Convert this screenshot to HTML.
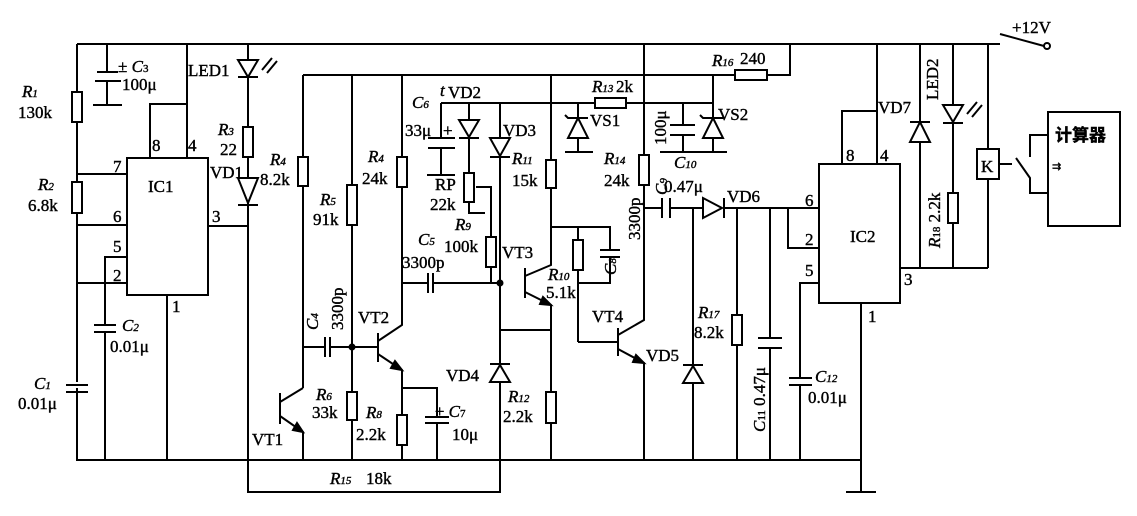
<!DOCTYPE html>
<html><head><meta charset="utf-8"><style>
html,body{margin:0;padding:0;background:#fff;}
svg{display:block}
text{font-family:"Liberation Serif","Noto Serif CJK SC",serif;font-size:17px;fill:#000;stroke:#000;stroke-width:0.4px;}
.i{font-style:italic}
.s{font-size:11px}
</style></head><body>
<svg width="1137" height="516" viewBox="0 0 1137 516" xmlns="http://www.w3.org/2000/svg">
<g stroke="#000" stroke-width="2" fill="none">
<polyline points="77,44 1000,44"/>
<polyline points="77,44 77,460 861,460"/>
<polyline points="248,460 248,492 500,492 500,460"/>
<rect x="72" y="92" width="10" height="30" fill="#fff"/>
<rect x="72" y="182" width="10" height="31" fill="#fff"/>
<line x1="66" y1="385" x2="88" y2="385" stroke="#fff" stroke-width="6"/>
<line x1="66" y1="385" x2="88" y2="385"/><line x1="66" y1="392" x2="88" y2="392"/>
<polyline points="107,44 107,72"/><line x1="97" y1="72" x2="118" y2="72"/><line x1="95" y1="81" x2="121" y2="81"/>
<polyline points="107,81 107,105"/><line x1="93" y1="105" x2="122" y2="105"/>
<rect x="127" y="158" width="81" height="137"/>
<polyline points="187,44 187,158"/>
<polyline points="150,158 150,104 187,104"/>
<line x1="77" y1="174" x2="127" y2="174"/>
<line x1="77" y1="225" x2="127" y2="225"/>
<polyline points="127,257 105,257 105,325"/>
<line x1="94" y1="325" x2="116" y2="325"/><line x1="94" y1="332" x2="116" y2="332"/>
<line x1="105" y1="332" x2="105" y2="460"/>
<line x1="77" y1="283" x2="127" y2="283"/>
<line x1="167" y1="295" x2="167" y2="460"/>
<line x1="208" y1="226" x2="248" y2="226"/>
<line x1="248" y1="44" x2="248" y2="460"/>
<polygon points="238,60 258,60 248,77" fill="#fff"/><line x1="238" y1="77" x2="258" y2="77"/>
<path d="M262,70 L272,58 M267,73 L277,61"/>
<rect x="243" y="127" width="10" height="30" fill="#fff"/>
<polygon points="238,178 258,178 248,203" fill="#fff"/><line x1="238" y1="205" x2="258" y2="205"/>
<polyline points="303,75 735,75"/>
<rect x="735" y="70" width="32" height="10" fill="#fff"/>
<polyline points="767,75 790,75 790,44"/>
<line x1="303" y1="75" x2="303" y2="388"/>
<rect x="298" y="157" width="10" height="29" fill="#fff"/>
<line x1="280" y1="393" x2="280" y2="424"/>
<polyline points="280,402 303,388"/>
<polyline points="280,416 303,432 303,460"/>
<polygon points="303,432 293,430 297,423" fill="#000"/>
<line x1="303" y1="347" x2="325" y2="347"/><line x1="330" y1="347" x2="378" y2="347"/>
<line x1="325" y1="337" x2="325" y2="357"/><line x1="330" y1="337" x2="330" y2="357"/>
<line x1="352" y1="75" x2="352" y2="460"/>
<rect x="347" y="185" width="10" height="40" fill="#fff"/>
<rect x="347" y="392" width="10" height="28" fill="#fff"/>
<circle cx="352" cy="347" r="2.5" fill="#000"/>
<line x1="378" y1="333" x2="378" y2="362"/>
<polyline points="378,341 402,325 402,75"/>
<rect x="397" y="157" width="10" height="30" fill="#fff"/>
<polyline points="378,354 402,370 402,460"/>
<polygon points="402,370 391,368 395,361" fill="#000"/>
<rect x="397" y="415" width="10" height="30" fill="#fff"/>
<polyline points="402,388 437,388 437,417"/>
<line x1="425" y1="417" x2="449" y2="417"/><line x1="425" y1="423" x2="449" y2="423"/>
<line x1="437" y1="423" x2="437" y2="460"/>
<polyline points="402,283 428,283"/><polyline points="433,283 500,283"/>
<line x1="428" y1="273" x2="428" y2="293"/><line x1="433" y1="273" x2="433" y2="293"/>
<circle cx="500" cy="283" r="2.5" fill="#000"/>
<polyline points="441,103 595,103"/>
<rect x="595" y="98" width="31" height="10" fill="#fff"/>
<polyline points="626,103 713,103"/>
<line x1="441" y1="103" x2="441" y2="138"/>
<line x1="428" y1="138" x2="455" y2="138"/><line x1="428" y1="148" x2="455" y2="148"/>
<line x1="441" y1="148" x2="441" y2="175"/><line x1="427" y1="175" x2="455" y2="175"/>
<line x1="469" y1="103" x2="469" y2="173"/>
<polygon points="459,120 479,120 469,137" fill="#fff"/><line x1="459" y1="138" x2="479" y2="138"/>
<rect x="464" y="173" width="10" height="29" fill="#fff"/>
<polyline points="469,202 469,213 485,213"/>
<polyline points="476,187 491,187 491,283"/>
<rect x="486" y="237" width="10" height="30" fill="#fff"/>
<line x1="500" y1="103" x2="500" y2="492"/>
<polygon points="490,138 510,138 500,156" fill="#fff"/><line x1="490" y1="157" x2="510" y2="157"/>
<polygon points="490,382 510,382 500,365" fill="#fff"/><line x1="490" y1="364" x2="510" y2="364"/>
<line x1="500" y1="330" x2="551" y2="330"/>
<line x1="525" y1="268" x2="525" y2="298"/>
<polyline points="525,276 551,265 551,75"/>
<rect x="546" y="160" width="10" height="28" fill="#fff"/>
<polyline points="525,292 551,305 551,460"/>
<polygon points="551,305 540,304 543,297" fill="#000"/>
<rect x="546" y="392" width="10" height="31" fill="#fff"/>
<polyline points="551,227 610,227 610,250"/>
<line x1="600" y1="250" x2="620" y2="250"/><line x1="600" y1="257" x2="620" y2="257"/>
<polyline points="610,257 610,283 578,283"/>
<line x1="578" y1="227" x2="578" y2="342"/>
<rect x="573" y="240" width="10" height="30" fill="#fff"/>
<line x1="578" y1="342" x2="618" y2="342"/>
<line x1="578" y1="103" x2="578" y2="152"/>
<polygon points="568,138 588,138 578,118" fill="#fff"/><polyline points="565,115 568,118 588,118"/>
<line x1="565" y1="152" x2="593" y2="152"/>
<line x1="618" y1="328" x2="618" y2="356"/>
<polyline points="618,335 644,320 644,44"/>
<rect x="639" y="155" width="10" height="30" fill="#fff"/>
<polyline points="618,349 644,363 644,460"/>
<polygon points="644,363 633,362 636,355" fill="#000"/>
<line x1="683" y1="103" x2="683" y2="125"/>
<line x1="670" y1="125" x2="695" y2="125"/><line x1="670" y1="135" x2="695" y2="135"/>
<line x1="683" y1="135" x2="683" y2="152"/>
<line x1="713" y1="75" x2="713" y2="152"/>
<polygon points="703,138 723,138 713,118" fill="#fff"/><polyline points="700,115 703,118 723,118"/>
<line x1="660" y1="152" x2="727" y2="152"/>
<polyline points="644,208 662,208"/><polyline points="670,208 703,208"/>
<line x1="662" y1="198" x2="662" y2="218"/><line x1="670" y1="198" x2="670" y2="218"/>
<polygon points="703,198 703,218 722,208" fill="#fff"/><line x1="724" y1="198" x2="724" y2="218"/>
<line x1="724" y1="208" x2="819" y2="208"/>
<line x1="693" y1="208" x2="693" y2="460"/>
<polygon points="683,383 703,383 693,366" fill="#fff"/><line x1="683" y1="365" x2="703" y2="365"/>
<line x1="737" y1="208" x2="737" y2="460"/>
<rect x="732" y="315" width="10" height="30" fill="#fff"/>
<line x1="770" y1="208" x2="770" y2="338"/>
<line x1="758" y1="338" x2="782" y2="338"/><line x1="758" y1="348" x2="782" y2="348"/>
<line x1="770" y1="348" x2="770" y2="460"/>
<rect x="819" y="164" width="81" height="139"/>
<polyline points="788,208 788,248 819,248"/>
<polyline points="819,283 800,283 800,378"/>
<line x1="789" y1="378" x2="812" y2="378"/><line x1="789" y1="385" x2="812" y2="385"/>
<line x1="800" y1="385" x2="800" y2="460"/>
<polyline points="842,164 842,111 877,111"/>
<line x1="877" y1="44" x2="877" y2="164"/>
<line x1="861" y1="303" x2="861" y2="492"/>
<line x1="846" y1="492" x2="876" y2="492"/>
<line x1="900" y1="268" x2="988" y2="268"/>
<line x1="920" y1="44" x2="920" y2="268"/>
<polygon points="910,142 930,142 920,122" fill="#fff"/><line x1="910" y1="122" x2="930" y2="122"/>
<line x1="953" y1="44" x2="953" y2="268"/>
<polygon points="943,105 963,105 953,122" fill="#fff"/><line x1="943" y1="123" x2="963" y2="123"/>
<path d="M967,114 L977,102 M972,117 L982,105"/>
<rect x="948" y="193" width="10" height="30" fill="#fff"/>
<line x1="988" y1="44" x2="988" y2="268"/>
<rect x="977" y="149" width="22" height="30" fill="#fff"/>
<line x1="999" y1="164" x2="1012" y2="164"/>
<polyline points="1048,135 1030,135 1030,157"/>
<polyline points="1016,158 1030,178 1030,193 1048,193"/>
<rect x="1048" y="112" width="72" height="114"/>
<line x1="1000" y1="34" x2="1044" y2="46"/>
<circle cx="1047" cy="46" r="3" fill="#fff"/>
</g>
<g>
<text x="22" y="97" class="i">R<tspan class="s">1</tspan></text><text x="18" y="118">130k</text>
<text x="118" y="72">± <tspan class="i">C</tspan><tspan class="s">3</tspan></text><text x="122" y="90">100μ</text>
<text x="188" y="76">LED1</text>
<text x="218" y="135" class="i">R<tspan class="s">3</tspan></text><text x="220" y="155">22</text>
<text x="210" y="178">VD1</text>
<text x="152" y="151">8</text><text x="188" y="151">4</text>
<text x="113" y="172">7</text><text x="113" y="222">6</text><text x="113" y="252">5</text><text x="113" y="281">2</text>
<text x="212" y="222">3</text><text x="172" y="312">1</text>
<text x="148" y="192">IC1</text>
<text x="38" y="190" class="i">R<tspan class="s">2</tspan></text><text x="28" y="211">6.8k</text>
<text x="122" y="331" class="i">C<tspan class="s">2</tspan></text><text x="110" y="352">0.01μ</text>
<text x="34" y="389" class="i">C<tspan class="s">1</tspan></text><text x="18" y="409">0.01μ</text>
<text x="270" y="165" class="i">R<tspan class="s">4</tspan></text><text x="260" y="185">8.2k</text>
<text x="320" y="205" class="i">R<tspan class="s">5</tspan></text><text x="313" y="225">91k</text>
<text x="368" y="162" class="i">R<tspan class="s">4</tspan></text><text x="362" y="184">24k</text>
<text x="318" y="330" transform="rotate(-90 318 330)" class="i">C<tspan class="s">4</tspan></text>
<text x="343" y="330" transform="rotate(-90 343 330)">3300p</text>
<text x="358" y="323">VT2</text>
<text x="252" y="445">VT1</text>
<text x="316" y="400" class="i">R<tspan class="s">6</tspan></text><text x="312" y="418">33k</text>
<text x="366" y="418" class="i">R<tspan class="s">8</tspan></text><text x="356" y="440">2.2k</text>
<text x="435" y="417">± <tspan class="i">C</tspan><tspan class="s">7</tspan></text><text x="452" y="440">10μ</text>
<text x="330" y="484" class="i">R<tspan class="s">15</tspan></text><text x="366" y="484">18k</text>
<text x="418" y="245" class="i">C<tspan class="s">5</tspan></text><text x="402" y="268">3300p</text>
<text x="412" y="108" class="i">C<tspan class="s">6</tspan></text><text x="440" y="96" class="i">t</text><text x="448" y="98">VD2</text>
<text x="405" y="136">33μ</text><text x="443" y="136">+</text>
<text x="435" y="190">RP</text><text x="430" y="210">22k</text>
<text x="455" y="230" class="i">R<tspan class="s">9</tspan></text><text x="444" y="252">100k</text>
<text x="503" y="136">VD3</text>
<text x="512" y="164" class="i">R<tspan class="s">11</tspan></text><text x="512" y="186">15k</text>
<text x="502" y="258">VT3</text>
<text x="548" y="280" class="i">R<tspan class="s">10</tspan></text><text x="546" y="298">5.1k</text>
<text x="592" y="322">VT4</text>
<text x="446" y="381">VD4</text>
<text x="508" y="402" class="i">R<tspan class="s">12</tspan></text><text x="503" y="422">2.2k</text>
<text x="592" y="92" class="i">R<tspan class="s">13</tspan></text><text x="616" y="92">2k</text>
<text x="590" y="126">VS1</text>
<text x="712" y="66" class="i">R<tspan class="s">16</tspan></text><text x="740" y="64">240</text>
<text x="604" y="164" class="i">R<tspan class="s">14</tspan></text><text x="604" y="186">24k</text>
<text x="666" y="145" transform="rotate(-90 666 145)">100μ</text>
<text x="667" y="195" transform="rotate(-90 667 195)" class="i">C<tspan class="s">9</tspan></text>
<text x="674" y="168" class="i">C<tspan class="s">10</tspan></text><text x="664" y="192">0.47μ</text>
<text x="718" y="120">VS2</text>
<text x="640" y="240" transform="rotate(-90 640 240)">3300p</text>
<text x="616" y="275" transform="rotate(-90 616 275)" class="i">C<tspan class="s">8</tspan></text>
<text x="727" y="202">VD6</text>
<text x="646" y="361">VD5</text>
<text x="698" y="318" class="i">R<tspan class="s">17</tspan></text><text x="694" y="338">8.2k</text>
<text x="765" y="432" transform="rotate(-90 765 432)"><tspan class="i">C</tspan><tspan class="s">11</tspan> 0.47μ</text>
<text x="815" y="382" class="i">C<tspan class="s">12</tspan></text><text x="808" y="403">0.01μ</text>
<text x="850" y="242">IC2</text>
<text x="846" y="161">8</text><text x="880" y="161">4</text>
<text x="805" y="206">6</text><text x="805" y="245">2</text><text x="805" y="276">5</text>
<text x="904" y="285">3</text><text x="868" y="322">1</text>
<text x="878" y="113">VD7</text>
<text x="938" y="100" transform="rotate(-90 938 100)">LED2</text>
<text x="940" y="248" transform="rotate(-90 940 248)"><tspan class="i">R</tspan><tspan class="s">18</tspan> 2.2k</text>
<text x="981" y="172">K</text>
<text x="1055" y="141" style="font-weight:bold;font-family:'Noto Sans CJK SC',sans-serif;font-size:17px">计算器</text>
<text x="1052" y="170" class="s">⇉</text>
<text x="1012" y="33">+12V</text>
</g>
</svg>
</body></html>
